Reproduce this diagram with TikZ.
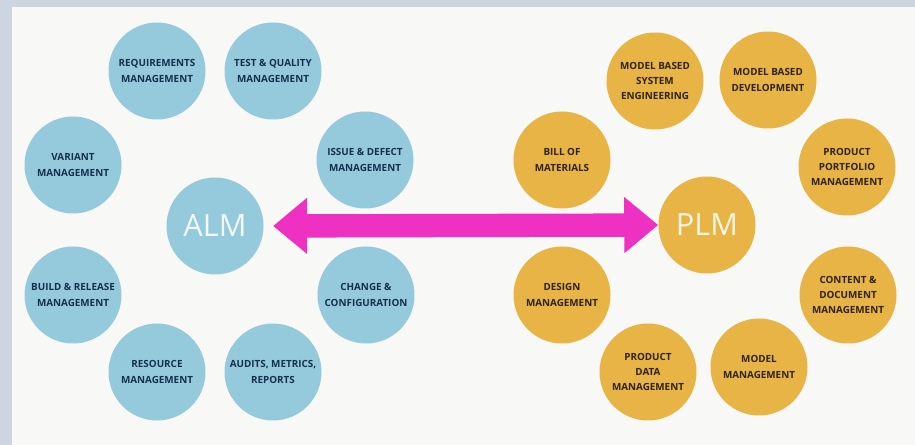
\documentclass[tikz,border=0pt]{standalone}
\usepackage{fontspec}
\setmainfont{Open Sans}
\usetikzlibrary{arrows.meta}
\definecolor{stripcol}{HTML}{CDD6E0}
\definecolor{panelcol}{HTML}{F8F8F6}
\definecolor{almblue}{HTML}{95CADD}
\definecolor{plmgold}{HTML}{E7B445}
\definecolor{almtext}{HTML}{15304F}
\definecolor{plmtext}{HTML}{2E2210}
\definecolor{arrowpink}{HTML}{EE31C2}

\begin{document}
\begin{tikzpicture}[x=0.75pt,y=0.75pt,yscale=-1,xscale=1,
  bub/.style={circle,inner sep=0pt,minimum size=72.75pt,align=center,
    font=\bfseries\fontsize{7.4}{11.4}\selectfont},
  almbub/.style={bub,fill=almblue,text=almtext},
  plmbub/.style={bub,fill=plmgold,text=plmtext},
  hubtext/.style={font=\fontsize{23}{23}\selectfont},
  fatarrow/.style={draw=arrowpink,line width=17.5pt,
    {Triangle[length=25.5pt,width=40.5pt]}-{Triangle[length=25.5pt,width=40.5pt]}}]
%background and panel
\path[fill=stripcol] (0,0) rectangle (915,445);
\path[fill=panelcol] (12,7) rectangle (915,445);

% ALM side
\draw (215,226) node [almbub,hubtext,text=white!88!almblue] (alm) {ALM};
\draw (157,71) node [almbub] (req) {REQUIREMENTS\\MANAGEMENT};
\draw (273,71) node [almbub] (test) {TEST \& QUALITY\\MANAGEMENT};
\draw (365,160) node [almbub] (issue) {ISSUE \& DEFECT\\MANAGEMENT};
\draw (73,165) node [almbub] (variant) {VARIANT\\MANAGEMENT};
\draw (73,295) node [almbub] (build) {BUILD \& RELEASE\\MANAGEMENT};
\draw (366,295) node [almbub] (change) {CHANGE \&\\CONFIGURATION};
\draw (157,372) node [almbub] (resource) {RESOURCE\\MANAGEMENT};
\draw (273,372) node [almbub] (audits) {AUDITS, METRICS,\\REPORTS};

% PLM side
\draw (707,225) node [plmbub,hubtext,text=white!85!plmgold] (plm) {PLM};
\draw (655,81) node [plmbub] (mbse) {MODEL BASED\\SYSTEM\\ENGINEERING};
\draw (768,80) node [plmbub] (mbd) {MODEL BASED\\DEVELOPMENT};
\draw (562,160) node [plmbub] (bom) {BILL OF\\MATERIALS};
\draw (847,167) node [plmbub] (portfolio) {PRODUCT\\PORTFOLIO\\MANAGEMENT};
\draw (562,295) node [plmbub] (design) {DESIGN\\MANAGEMENT};
\draw (848,295) node [plmbub] (content) {CONTENT \&\\DOCUMENT\\MANAGEMENT};
\draw (648,372) node [plmbub] (pdm) {PRODUCT\\DATA\\MANAGEMENT};
\draw (759,367) node [plmbub] (model) {MODEL\\MANAGEMENT};

%Double arrow
\draw [fatarrow] ([xshift=7pt]alm.east) -- (plm.west);

\end{tikzpicture}
\end{document}
